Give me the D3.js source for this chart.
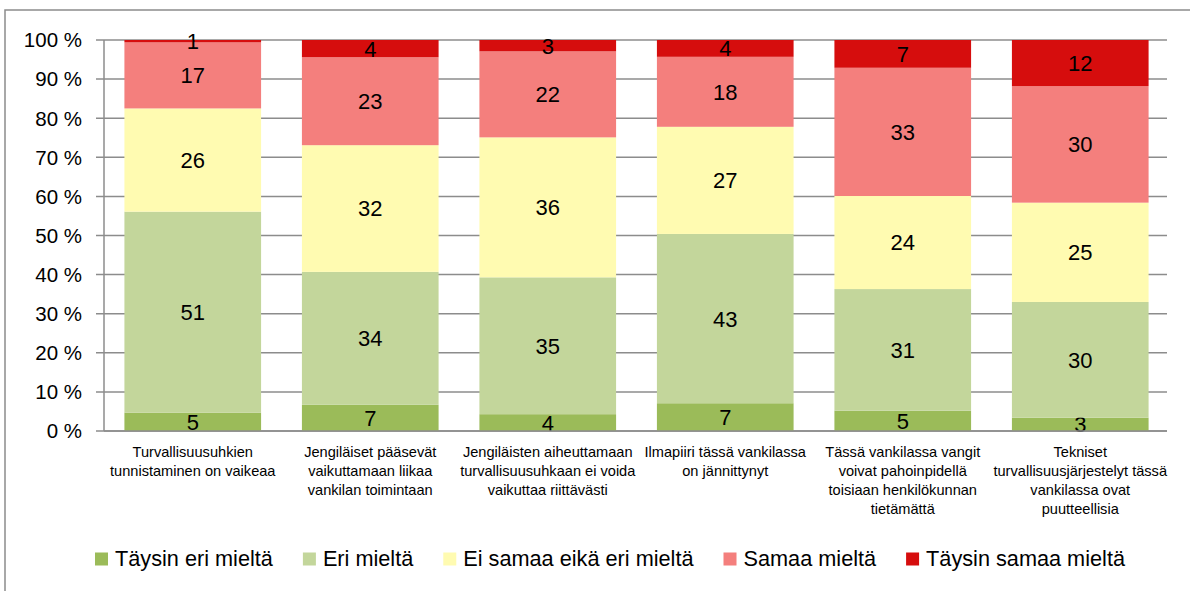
<!DOCTYPE html>
<html>
<head>
<meta charset="utf-8">
<script src="https://cdn.jsdelivr.net/npm/d3@7"></script>
<style>
  body { margin: 0; background: #fff; }
  svg { display: block; font-family: "Liberation Sans", Arial, sans-serif; }
</style>
</head>
<body>
<svg id="chart"></svg>
<script>
// categories (x axis), one line per array entry
var categories = [
  ["Turvallisuusuhkien", "tunnistaminen on vaikeaa"],
  ["Jengiläiset pääsevät", "vaikuttamaan liikaa", "vankilan toimintaan"],
  ["Jengiläisten aiheuttamaan", "turvallisuusuhkaan ei voida", "vaikuttaa riittävästi"],
  ["Ilmapiiri tässä vankilassa", "on jännittynyt"],
  ["Tässä vankilassa vangit", "voivat pahoinpidellä", "toisiaan henkilökunnan", "tietämättä"],
  ["Tekniset", "turvallisuusjärjestelyt tässä", "vankilassa ovat", "puutteellisia"]
];

var seriesNames = ["Täysin eri mieltä", "Eri mieltä", "Ei samaa eikä eri mieltä", "Samaa mieltä", "Täysin samaa mieltä"];

// percentages per series, one value per category
var taysinEri   = [4.7, 6.7, 4.3, 7.1, 5.2, 3.4];
var eri         = [51.4, 34.0, 35.0, 43.3, 31.1, 29.6];
var eiSamaaEri  = [26.4, 32.4, 35.8, 27.4, 23.8, 25.4];
var samaa       = [16.9, 22.5, 22.0, 17.9, 32.8, 29.8];
var taysinSamaa = [0.6, 4.4, 2.9, 4.3, 7.1, 11.8];

var yTicks = [0, 10, 20, 30, 40, 50, 60, 70, 80, 90, 100];

var colors = ["#9bbb59", "#c3d69b", "#fffbb1", "#f47f7d", "#d60d0d"];

var W = 1190, H = 591;
var margin = { left: 104, right: 23, top: 40, bottom: 160 };

var svg = d3.select("#chart").attr("width", W).attr("height", H);

// outer chart frame
svg.append("rect")
  .attr("x", 5).attr("y", 10)
  .attr("width", W + 20).attr("height", H + 20)
  .attr("fill", "#fff")
  .attr("stroke", "#8c8c8c")
  .attr("stroke-width", 1.5);

var rows = categories.map(function (c, i) {
  return {
    i: i,
    "Täysin eri mieltä": taysinEri[i],
    "Eri mieltä": eri[i],
    "Ei samaa eikä eri mieltä": eiSamaaEri[i],
    "Samaa mieltä": samaa[i],
    "Täysin samaa mieltä": taysinSamaa[i]
  };
});

var x = d3.scaleBand()
  .domain(d3.range(categories.length))
  .range([margin.left, 1169])
  .paddingInner(0.23)
  .paddingOuter(0.115);

var y = d3.scaleLinear()
  .domain([0, 100])
  .range([431, margin.top]);

// gridlines
svg.append("g")
  .selectAll("line")
  .data(yTicks)
  .join("line")
  .attr("x1", 96)
  .attr("x2", W - margin.right)
  .attr("y1", function (d) { return y(d); })
  .attr("y2", function (d) { return y(d); })
  .attr("stroke", "#8c8c8c")
  .attr("stroke-width", 1.5);

// y axis line
svg.append("line")
  .attr("x1", margin.left).attr("x2", margin.left)
  .attr("y1", y(0)).attr("y2", y(100))
  .attr("stroke", "#8c8c8c")
  .attr("stroke-width", 1.5);

// y tick labels
svg.append("g")
  .selectAll("text")
  .data(yTicks)
  .join("text")
  .attr("x", 82)
  .attr("y", function (d) { return y(d); })
  .attr("dy", "0.36em")
  .attr("text-anchor", "end")
  .style("font-size", "20.5px")
  .style("fill", "#000")
  .text(function (d) { return d + " %"; });

var stack = d3.stack().keys(seriesNames);
var layers = stack(rows);

var layerG = svg.append("g")
  .selectAll("g")
  .data(layers)
  .join("g")
  .attr("fill", function (d, i) { return colors[i]; });

layerG.selectAll("rect")
  .data(function (d) { return d; })
  .join("rect")
  .attr("x", function (d) { return x(d.data.i); })
  .attr("width", x.bandwidth())
  .attr("y", function (d) { return y(d[1]); })
  .attr("height", function (d) { return y(d[0]) - y(d[1]); });

// x axis line (drawn over bars)
svg.append("line")
  .attr("x1", margin.left).attr("x2", W - margin.right)
  .attr("y1", y(0)).attr("y2", y(0))
  .attr("stroke", "#8c8c8c")
  .attr("stroke-width", 1.5);

// data labels
layerG.selectAll("text")
  .data(function (d) { return d; })
  .join("text")
  .attr("x", function (d) { return x(d.data.i) + x.bandwidth() / 2; })
  .attr("y", function (d) { return (y(d[0]) + y(d[1])) / 2; })
  .attr("dy", "0.36em")
  .attr("text-anchor", "middle")
  .style("font-size", "22px")
  .style("fill", "#000")
  .text(function (d) { return d3.format(".0f")(d[1] - d[0]); });

// category labels
var catG = svg.append("g")
  .selectAll("text")
  .data(categories)
  .join("text")
  .attr("x", function (d, i) { return x(i) + x.bandwidth() / 2; })
  .attr("y", 457)
  .attr("text-anchor", "middle")
  .style("font-size", "14.6px")
  .style("fill", "#000");

catG.selectAll("tspan")
  .data(function (d) { return d; })
  .join("tspan")
  .attr("x", function () { return d3.select(this.parentNode).attr("x"); })
  .attr("dy", function (d, j) { return j === 0 ? 0 : 19; })
  .text(function (d) { return d; });

// legend
var legend = svg.append("g");
var lx = 95;
seriesNames.forEach(function (name, i) {
  legend.append("rect")
    .attr("x", lx).attr("y", 552.5)
    .attr("width", 13).attr("height", 13)
    .attr("fill", colors[i]);
  var t = legend.append("text")
    .attr("x", lx + 20)
    .attr("y", 566)
    .style("font-size", "21.7px")
    .style("fill", "#000")
    .text(name);
  lx += 20 + t.node().getComputedTextLength() + 30;
});
</script>
</body>
</html>
